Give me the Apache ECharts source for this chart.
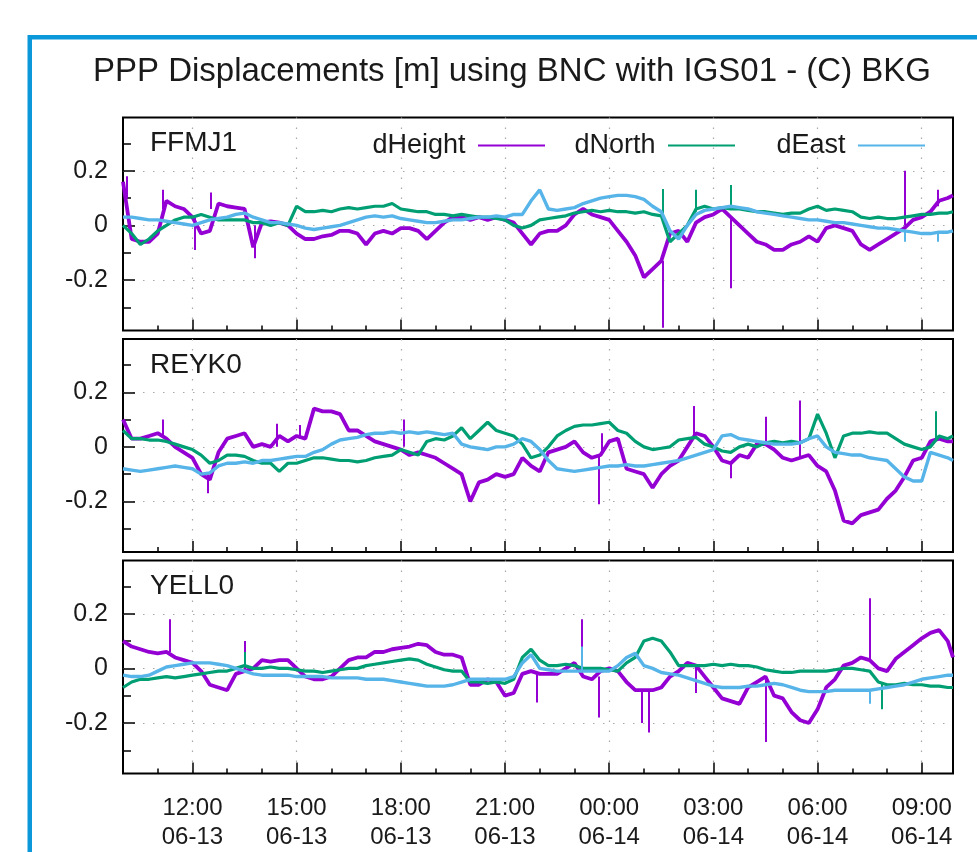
<!DOCTYPE html>
<html>
<head>
<meta charset="utf-8">
<title>PPP Displacements</title>
<script src="https://cdn.jsdelivr.net/npm/echarts@6/dist/echarts.min.js"></script>
<style>
  html, body { margin: 0; padding: 0; background: #fff; }
  #main { width: 977px; height: 852px; }
</style>
</head>
<body>
<div id="main"></div>
<script>
// ---- data (hours since 06-13 00:00, metres) ----
var stations = ['FFMJ1', 'REYK0', 'YELL0'];
var seriesNames = ['dHeight', 'dNorth', 'dEast'];
var xTickHours = [12, 15, 18, 21, 24, 27, 30, 33];
var xTickLabels = ['12:00\n06-13', '15:00\n06-13', '18:00\n06-13', '21:00\n06-13',
                   '00:00\n06-14', '03:00\n06-14', '06:00\n06-14', '09:00\n06-14'];
var xMinorHours = [11, 13, 14, 16, 17, 19, 20, 22, 23, 25, 26, 28, 29, 31, 32];
var yTickValues = [-0.2, 0, 0.2];
var yMinorValues = [-0.3, -0.1, 0.1, 0.3];

// samples every 15 min from 10:00, last one at the right edge
var sampleHours = [];
for (var i = 0; i < 96; i++) sampleHours.push(10 + i / 4);
sampleHours.push(33.9);

var ffmjH = [0.16,-0.05,-0.06,-0.06,-0.03,0.09,0.07,0.06,0.03,-0.03,
  -0.02,0.08,0.07,0.065,0.06,-0.08,0.01,0.015,0.01,0.0,
  -0.03,-0.05,-0.05,-0.04,-0.035,-0.02,-0.02,-0.03,-0.07,-0.03,
  -0.02,-0.03,-0.01,-0.01,-0.02,-0.05,-0.02,0.01,0.03,0.03,
  0.02,0.03,0.02,0.03,0.02,0.01,-0.03,-0.07,-0.03,-0.02,
  -0.02,0.0,0.04,0.06,0.04,0.03,0.02,-0.02,-0.06,-0.11,
  -0.19,-0.16,-0.13,-0.03,-0.02,-0.06,0.01,0.03,0.04,0.06,
  0.03,0.0,-0.03,-0.06,-0.07,-0.09,-0.09,-0.07,-0.06,-0.04,
  -0.06,-0.01,0.0,-0.01,-0.02,-0.07,-0.09,-0.07,-0.05,-0.03,
  -0.01,0.02,0.03,0.05,0.09,0.1,0.11];
var ffmjN = [0.0,-0.03,-0.07,-0.05,-0.02,0.0,0.02,0.03,0.03,0.04,
  0.03,0.02,0.02,0.02,0.02,0.01,0.01,0.0,0.01,0.0,
  0.07,0.05,0.05,0.055,0.05,0.06,0.065,0.06,0.065,0.07,
  0.07,0.08,0.06,0.055,0.05,0.05,0.04,0.04,0.035,0.04,
  0.035,0.03,0.03,0.025,0.02,0.0,-0.01,0.0,0.02,0.025,
  0.03,0.035,0.045,0.05,0.055,0.05,0.055,0.05,0.05,0.045,
  0.05,0.04,0.035,-0.06,-0.03,0.0,0.06,0.07,0.06,0.065,
  0.06,0.06,0.055,0.05,0.05,0.045,0.04,0.045,0.045,0.06,
  0.07,0.055,0.06,0.055,0.05,0.03,0.025,0.03,0.025,0.025,
  0.03,0.035,0.04,0.04,0.045,0.045,0.05];
var ffmjE = [0.03,0.03,0.025,0.02,0.02,0.015,0.01,0.005,0.0,0.01,
  0.02,0.025,0.03,0.04,0.045,0.03,0.02,0.01,0.01,0.005,
  0.0,-0.01,-0.015,-0.01,-0.005,0.0,0.01,0.02,0.03,0.035,
  0.03,0.035,0.025,0.02,0.015,0.01,0.01,0.015,0.02,0.02,
  0.025,0.03,0.03,0.035,0.03,0.04,0.04,0.09,0.13,0.06,
  0.055,0.06,0.065,0.08,0.09,0.1,0.105,0.11,0.11,0.105,
  0.095,0.07,0.05,-0.02,-0.05,0.0,0.04,0.055,0.06,0.065,
  0.07,0.065,0.06,0.05,0.045,0.04,0.035,0.03,0.025,0.02,
  0.02,0.015,0.01,0.01,0.005,0.0,-0.005,-0.01,-0.01,-0.015,
  -0.02,-0.025,-0.03,-0.03,-0.025,-0.025,-0.02];

var reykH = [0.1,0.03,0.03,0.04,0.05,0.03,0.0,-0.02,-0.04,-0.1,
  -0.12,-0.02,0.03,0.04,0.05,0.0,0.01,0.0,0.04,0.02,
  0.04,0.03,0.14,0.13,0.13,0.12,0.06,0.06,0.04,0.02,
  0.01,0.0,-0.01,-0.03,-0.02,-0.03,-0.04,-0.06,-0.08,-0.1,
  -0.2,-0.13,-0.12,-0.1,-0.11,-0.1,-0.04,-0.07,-0.09,-0.02,
  -0.01,0.0,0.02,-0.02,-0.04,-0.03,0.02,0.03,-0.08,-0.09,
  -0.1,-0.15,-0.1,-0.07,-0.05,0.0,0.05,0.04,0.0,-0.05,
  -0.06,-0.03,-0.04,0.01,0.01,-0.01,-0.04,-0.05,-0.04,-0.03,
  -0.07,-0.09,-0.16,-0.27,-0.28,-0.25,-0.24,-0.23,-0.19,-0.16,
  -0.11,-0.05,-0.04,0.02,0.03,0.02,0.02];
var reykN = [0.06,0.03,0.03,0.025,0.025,0.02,0.01,0.0,-0.01,-0.03,
  -0.06,-0.05,-0.03,-0.03,-0.035,-0.05,-0.06,-0.06,-0.09,-0.06,
  -0.06,-0.05,-0.04,-0.04,-0.045,-0.05,-0.05,-0.055,-0.05,-0.04,
  -0.035,-0.03,-0.01,-0.02,-0.03,0.02,0.03,0.025,0.04,0.07,
  0.03,0.06,0.09,0.06,0.05,0.04,0.01,-0.04,-0.03,0.0,
  0.04,0.06,0.075,0.08,0.08,0.085,0.09,0.06,0.05,0.02,
  0.0,-0.01,-0.005,0.0,0.025,0.03,0.035,0.01,0.0,-0.015,
  -0.02,0.0,0.01,0.0,0.015,0.02,0.015,0.02,0.015,0.03,
  0.12,0.05,-0.04,0.04,0.05,0.05,0.055,0.05,0.05,0.03,
  0.01,0.0,-0.01,0.0,0.04,0.03,0.04];
var reykE = [-0.08,-0.085,-0.09,-0.085,-0.08,-0.075,-0.07,-0.075,-0.08,-0.1,
  -0.095,-0.07,-0.06,-0.06,-0.055,-0.06,-0.05,-0.05,-0.045,-0.04,
  -0.035,-0.035,-0.02,-0.01,0.01,0.025,0.03,0.035,0.045,0.05,
  0.05,0.055,0.05,0.055,0.05,0.055,0.05,0.045,0.05,0.01,
  0.0,-0.005,-0.01,0.0,0.0,0.01,0.03,0.02,-0.01,-0.05,
  -0.08,-0.085,-0.09,-0.085,-0.08,-0.075,-0.07,-0.07,-0.065,-0.07,
  -0.07,-0.065,-0.06,-0.055,-0.05,-0.04,-0.03,-0.02,-0.01,0.04,
  0.045,0.03,0.025,0.02,0.015,0.01,0.01,0.01,0.015,0.03,
  0.04,0.0,-0.02,-0.025,-0.03,-0.03,-0.04,-0.045,-0.05,-0.08,
  -0.11,-0.125,-0.125,-0.02,-0.03,-0.04,-0.05];

var yellH = [0.1,0.08,0.07,0.06,0.055,0.06,0.04,0.03,0.02,-0.01,
  -0.06,-0.07,-0.08,-0.02,-0.01,0.0,0.03,0.025,0.03,0.03,
  0.0,-0.03,-0.04,-0.04,-0.03,0.0,0.03,0.04,0.04,0.06,
  0.06,0.07,0.075,0.08,0.09,0.085,0.06,0.05,0.05,0.04,
  -0.06,-0.06,-0.04,-0.05,-0.1,-0.09,-0.02,-0.01,-0.02,-0.02,
  -0.02,0.0,0.02,-0.03,-0.04,-0.01,0.0,-0.01,-0.05,-0.08,
  -0.08,-0.08,-0.07,-0.03,-0.01,0.02,0.01,-0.03,-0.07,-0.11,
  -0.12,-0.13,-0.07,-0.05,-0.03,-0.1,-0.11,-0.16,-0.19,-0.2,
  -0.15,-0.07,-0.04,0.01,0.02,0.04,0.03,0.0,-0.01,0.035,
  0.06,0.085,0.11,0.13,0.14,0.1,0.04];
var yellN = [-0.07,-0.05,-0.04,-0.04,-0.035,-0.03,-0.035,-0.03,-0.025,-0.02,
  -0.015,-0.01,-0.01,0.0,0.01,0.0,0.0,0.005,0.0,0.0,
  -0.005,-0.01,-0.01,-0.015,-0.01,-0.005,0.0,0.0,0.01,0.015,
  0.02,0.025,0.03,0.035,0.03,0.015,0.005,-0.005,-0.01,-0.01,
  -0.05,-0.05,-0.055,-0.05,-0.055,-0.04,0.04,0.07,0.03,0.01,
  0.01,0.015,0.01,0.0,0.0,0.0,-0.005,-0.01,0.02,0.04,
  0.1,0.11,0.1,0.06,0.01,0.01,0.01,0.01,0.015,0.01,
  0.015,0.01,0.01,0.005,-0.005,-0.01,-0.015,-0.015,-0.01,-0.01,
  -0.01,-0.01,-0.005,0.0,0.0,-0.005,-0.01,-0.05,-0.06,-0.06,
  -0.055,-0.06,-0.06,-0.065,-0.065,-0.07,-0.07];
var yellE = [-0.025,-0.03,-0.03,-0.025,-0.01,0.005,0.01,0.015,0.02,0.02,
  0.02,0.015,0.01,0.0,-0.01,-0.02,-0.025,-0.025,-0.025,-0.025,
  -0.03,-0.03,-0.03,-0.03,-0.035,-0.035,-0.035,-0.035,-0.04,-0.04,
  -0.04,-0.045,-0.05,-0.055,-0.06,-0.065,-0.065,-0.065,-0.06,-0.05,
  -0.04,-0.04,-0.04,-0.04,-0.04,-0.03,0.02,0.05,0.0,-0.005,
  -0.01,-0.01,-0.01,-0.01,-0.01,-0.01,-0.01,0.01,0.04,0.055,
  0.01,0.0,-0.015,-0.02,-0.025,-0.035,-0.045,-0.055,-0.065,-0.07,
  -0.07,-0.07,-0.065,-0.065,-0.06,-0.055,-0.06,-0.07,-0.08,-0.085,
  -0.085,-0.085,-0.08,-0.08,-0.08,-0.08,-0.08,-0.075,-0.07,-0.065,
  -0.06,-0.05,-0.04,-0.035,-0.03,-0.025,-0.025];

// short outliers: [hour, from, to]
var ffmjHSpikes = [[10.1,0.1,0.18],[11.15,0.06,0.13],[12.06,0.03,-0.09],[12.54,0.06,0.12],
  [13.79,0.0,-0.12],[25.53,-0.13,-0.375],[27.5,0.03,-0.23],[32.51,0.0,0.2],[33.47,0.07,0.13]];
var ffmjNSpikes = [[25.53,0.03,0.133],[26.49,0.05,0.13],[27.5,0.06,0.148]];
var ffmjESpikes = [[32.51,-0.02,-0.06],[33.47,-0.025,-0.06]];
var reykHSpikes = [[11.15,0.04,0.1],[12.44,-0.1,-0.17],[14.42,0.0,0.085],[15.09,0.03,0.08],
  [18.08,0.0,0.1],[23.7,-0.03,-0.21],[23.8,-0.02,0.05],[26.44,0.04,0.15],[27.5,-0.06,-0.115],
  [28.51,0.01,0.11],[29.48,-0.04,0.17]];
var reykNSpikes = [[33.4,0.03,0.13]];
var reykESpikes = [];
var yellHSpikes = [[11.34,0.06,0.18],[13.5,-0.01,0.1],[21.92,-0.02,-0.125],[23.22,0.0,0.18],
  [23.7,-0.03,-0.18],[24.95,-0.08,-0.2],[25.15,-0.08,-0.235],[26.49,0.01,-0.09],
  [28.51,-0.04,-0.27],[31.5,0.03,0.257]];
var yellNSpikes = [[13.5,0.01,0.06],[31.84,-0.05,-0.15]];
var yellESpikes = [[31.5,-0.08,-0.13],[23.22,-0.01,0.08]];

var panelValues = [[ffmjH, ffmjN, ffmjE], [reykH, reykN, reykE], [yellH, yellN, yellE]];
var panelSpikes = [[ffmjHSpikes, ffmjNSpikes, ffmjESpikes],
                   [reykHSpikes, reykNSpikes, reykESpikes],
                   [yellHSpikes, yellNSpikes, yellESpikes]];

// ---- layout ----
var FONT = '"Liberation Sans", Arial, sans-serif';
var colors = ['#9400d3', '#009e73', '#56b4e9'];
var widths = [3.8, 3.2, 3.4];
var panelTop = [117.5, 339, 560.5];
var panelHeight = 213;
var xMin = 10, xMax = 33.9;
var yMin = -0.385, yMax = 0.395;
var gridDots = { color: '#a8a8a8', width: 1.2, type: [1.5, 8.5] };

function pairs(vals) {
  return vals.map(function (v, i) { return [sampleHours[i], v]; });
}
function spikeData(list) {
  return list.map(function (s) { return { coords: [[s[0], s[1]], [s[0], s[2]]] }; });
}

var grids = [], xAxes = [], yAxes = [], series = [], texts = [];
for (var g = 0; g < 3; g++) {
  grids.push({
    left: 123, right: 24, top: panelTop[g], height: panelHeight,
    show: true, borderColor: '#000', borderWidth: 2, containLabel: false
  });
  // major x axis
  xAxes.push({
    type: 'value', gridIndex: g, min: xMin, max: xMax, position: 'bottom',
    axisLine: { show: false, onZero: false },
    axisTick: { show: true, inside: true, length: 11, customValues: xTickHours,
                lineStyle: { color: '#000', width: 1.5 } },
    axisLabel: {
      show: g === 2, customValues: xTickHours, margin: 20,
      fontSize: 24, lineHeight: 29, fontFamily: FONT, color: '#1a1a1a',
      formatter: function (v) {
        var k = xTickHours.indexOf(v);
        return k >= 0 ? xTickLabels[k] : '';
      }
    },
    splitLine: { show: true, lineStyle: gridDots }
  });
  // minor x ticks
  xAxes.push({
    type: 'value', gridIndex: g, min: xMin, max: xMax, position: 'bottom',
    axisLine: { show: false, onZero: false },
    axisTick: { show: true, inside: true, length: 5, customValues: xMinorHours,
                lineStyle: { color: '#000', width: 1.5 } },
    axisLabel: { show: false },
    splitLine: { show: false }
  });
  yAxes.push({
    type: 'value', gridIndex: g, min: yMin, max: yMax, position: 'left',
    axisLine: { show: false, onZero: false },
    axisTick: { show: true, inside: true, length: 12, customValues: yTickValues,
                lineStyle: { color: '#000', width: 1.5 } },
    axisLabel: {
      show: true, customValues: yTickValues, margin: 15,
      fontSize: 25, fontFamily: FONT, color: '#1a1a1a',
      formatter: function (v) { return v === 0 ? '0' : v.toFixed(1); }
    },
    splitLine: { show: true, lineStyle: gridDots }
  });
  yAxes.push({
    type: 'value', gridIndex: g, min: yMin, max: yMax, position: 'left',
    axisLine: { show: false, onZero: false },
    axisTick: { show: true, inside: true, length: 8, customValues: yMinorValues,
                lineStyle: { color: '#000', width: 1.5 } },
    axisLabel: { show: false },
    splitLine: { show: false }
  });

  for (var k = 0; k < 3; k++) {
    series.push({
      name: seriesNames[k], type: 'line',
      xAxisIndex: 2 * g, yAxisIndex: 2 * g,
      data: pairs(panelValues[g][k]),
      showSymbol: false, symbol: 'none',
      lineStyle: { color: colors[k], width: widths[k] },
      itemStyle: { color: colors[k] },
      z: 3 + k, silent: true
    });
    series.push({
      name: seriesNames[k], type: 'lines', coordinateSystem: 'cartesian2d',
      xAxisIndex: 2 * g, yAxisIndex: 2 * g,
      data: spikeData(panelSpikes[g][k]),
      lineStyle: { color: colors[k], width: 2, opacity: 1 },
      z: 3 + k, silent: true
    });
  }

  texts.push({
    type: 'text', z: 10,
    style: {
      text: stations[g], x: 150, y: panelTop[g] + 26,
      textAlign: 'left', textVerticalAlign: 'middle',
      font: '28px ' + FONT, fill: '#1a1a1a'
    }
  });
}

texts.push({
  type: 'text', z: 10,
  style: {
    text: 'PPP Displacements [m] using BNC with IGS01 - (C) BKG',
    x: 512, y: 72, textAlign: 'center', textVerticalAlign: 'middle',
    font: '33px ' + FONT, fill: '#1a1a1a'
  }
});
texts.push({
  type: 'rect', z: 0,
  shape: { x: 29.75, y: 37.25, width: 1200, height: 1200 },
  style: { fill: null, stroke: '#0b98da', lineWidth: 4.5 }
});

var legendRight = [432, 242, 52];
var legends = seriesNames.map(function (n, k) {
  return {
    data: [n], right: legendRight[k], top: 132, padding: 0,
    orient: 'horizontal', align: 'right',
    icon: 'rect', itemWidth: 67, itemHeight: 2, itemGap: 0,
    selectedMode: false,
    formatter: function (name) { return name + ' '; },
    textStyle: { fontSize: 27, fontFamily: FONT, color: '#1a1a1a' }
  };
});

var chart = echarts.init(document.getElementById('main'));
chart.setOption({
  animation: false,
  backgroundColor: '#fff',
  grid: grids,
  xAxis: xAxes,
  yAxis: yAxes,
  legend: legends,
  graphic: texts,
  series: series
});
</script>
</body>
</html>
